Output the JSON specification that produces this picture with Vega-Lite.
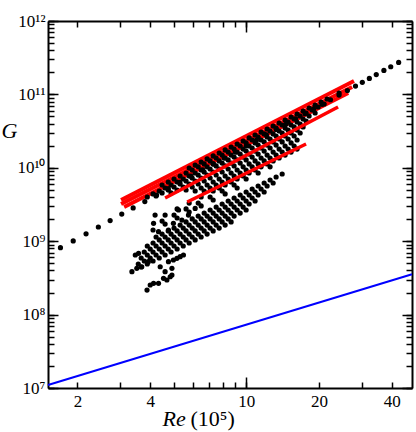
{
"$schema": "https://vega.github.io/schema/vega-lite/v6.json",
"width": 364, "height": 367,
"autosize": "none",
"padding": {"left": 48, "top": 21, "right": 4, "bottom": 44},
"background": "white",
"config": {"view": {"stroke": null}, "font": "Liberation Serif, Times New Roman, serif",
 "axis": {"grid": false, "domainColor": "black", "domainWidth": 2, "tickColor": "black", "tickWidth": 1.5, "labelFont": "Liberation Serif, Times New Roman, serif", "labelColor": "black", "labelFontSize": 17, "titleFont": "Liberation Serif, Times New Roman, serif", "titleColor": "black", "titleFontWeight": "normal", "labelOverlap": false, "labelFlush": false}},
"resolve": {"axis": {"x": "independent", "y": "independent"}},
"layer": [
 {"data": {"values": [{"re": 1.51, "g": 1.1e7}, {"re": 48.5, "g": 3.55e8}]},
  "mark": {"type": "line", "color": "#0000ff", "strokeWidth": 2},
  "encoding": {
   "x": {"field": "re", "type": "quantitative", "scale": {"type": "log", "domain": [1.51, 48.5], "nice": false},
     "axis": {"orient": "bottom", "values": [2,3,4,5,6,7,8,9,10,20,30,40], "labelExpr": "datum.value==2||datum.value==4||datum.value==10||datum.value==20||datum.value==40 ? ''+datum.value : ''", "tickSize": -6, "labelPadding": 11, "title": "Re", "titleFontStyle": "italic", "titleFontSize": 22, "titleX": 114, "titleY": 37, "titleAlign": "left", "titleBaseline": "alphabetic"}},
   "y": {"field": "g", "type": "quantitative", "scale": {"type": "log", "domain": [1e7, 1e12], "nice": false},
     "axis": {"orient": "left", "values": [1e7,2e7,3e7,4e7,5e7,6e7,7e7,8e7,9e7,1e8,2e8,3e8,4e8,5e8,6e8,7e8,8e8,9e8,1e9,2e9,3e9,4e9,5e9,6e9,7e9,8e9,9e9,1e10,2e10,3e10,4e10,5e10,6e10,7e10,8e10,9e10,1e11,2e11,3e11,4e11,5e11,6e11,7e11,8e11,9e11,1e12], "labelExpr": "datum.value==1e7?'10⁷':datum.value==1e8?'10⁸':datum.value==1e9?'10⁹':datum.value==1e10?'10¹⁰':datum.value==1e11?'10¹¹':datum.value==1e12?'10¹²':''", "tickSize": -6, "labelPadding": 9, "title": "G", "titleAngle": 0, "titleFontStyle": "italic", "titleFontSize": 22, "titleX": -39, "titleY": 109, "titleAlign": "center", "titleBaseline": "middle"}}
  }},
 {"data": {"values": [
   {"s": "A1", "re": 3.03, "g": 3.64e9}, {"s": "A1", "re": 27.9, "g": 1.52e11},
   {"s": "A2", "re": 3.03, "g": 3.21e9}, {"s": "A2", "re": 27.4, "g": 1.26e11},
   {"s": "A3", "re": 3.12, "g": 2.92e9}, {"s": "A3", "re": 26.4, "g": 1.045e11}]},
  "mark": {"type": "line", "color": "#ff0000", "strokeWidth": 4},
  "encoding": {
   "detail": {"field": "s"},
   "x": {"field": "re", "type": "quantitative", "scale": {"type": "log", "domain": [1.51, 48.5], "nice": false},
     "axis": {"orient": "top", "values": [2,3,4,5,6,7,8,9,10,20,30,40], "labels": false, "tickSize": -6, "title": null}},
   "y": {"field": "g", "type": "quantitative", "scale": {"type": "log", "domain": [1e7, 1e12], "nice": false},
     "axis": {"orient": "right", "values": [1e7,2e7,3e7,4e7,5e7,6e7,7e7,8e7,9e7,1e8,2e8,3e8,4e8,5e8,6e8,7e8,8e8,9e8,1e9,2e9,3e9,4e9,5e9,6e9,7e9,8e9,9e9,1e10,2e10,3e10,4e10,5e10,6e10,7e10,8e10,9e10,1e11,2e11,3e11,4e11,5e11,6e11,7e11,8e11,9e11,1e12], "labels": false, "tickSize": -6, "title": null}}
  }},
 {"data": {"values": [
{"re":5.80,"g":9.94e9},{"re":6.14,"g":1.09e10},{"re":6.50,"g":1.20e10},{"re":6.88,"g":1.32e10},{"re":7.29,"g":1.45e10},{"re":7.72,"g":1.59e10},{"re":8.17,"g":1.75e10},{"re":8.65,"g":1.92e10},{"re":9.16,"g":2.11e10},{"re":9.70,"g":2.32e10},{"re":10.27,"g":2.55e10},{"re":10.87,"g":2.80e10},{"re":11.51,"g":3.07e10},{"re":12.19,"g":3.38e10},{"re":12.91,"g":3.71e10},{"re":13.67,"g":4.08e10},{"re":14.47,"g":4.48e10},{"re":15.32,"g":4.92e10},{"re":16.22,"g":5.41e10},{"re":17.18,"g":5.94e10},{"re":18.19,"g":6.53e10},{"re":19.26,"g":7.17e10},{"re":20.39,"g":7.88e10},{"re":21.59,"g":8.66e10},{"re":24.21,"g":1.045e11},
{"re":4.48,"g":5.83e9},{"re":4.75,"g":6.41e9},{"re":5.02,"g":7.04e9},{"re":5.32,"g":7.73e9},{"re":5.63,"g":8.49e9},{"re":5.97,"g":9.33e9},{"re":6.32,"g":1.03e10},{"re":6.69,"g":1.13e10},{"re":7.08,"g":1.24e10},{"re":7.50,"g":1.36e10},{"re":7.94,"g":1.49e10},{"re":8.41,"g":1.64e10},{"re":8.90,"g":1.80e10},{"re":9.43,"g":1.98e10},{"re":9.98,"g":2.18e10},{"re":10.57,"g":2.39e10},{"re":11.19,"g":2.63e10},{"re":11.85,"g":2.89e10},{"re":12.54,"g":3.17e10},{"re":13.28,"g":3.48e10},{"re":14.07,"g":3.83e10},{"re":14.89,"g":4.21e10},{"re":15.77,"g":4.62e10},{"re":16.70,"g":5.08e10},{"re":17.68,"g":5.58e10},{"re":18.72,"g":6.13e10},{"re":19.82,"g":6.73e10},{"re":20.99,"g":7.40e10},
{"re":3.89,"g":4.00e9},{"re":4.11,"g":4.40e9},{"re":4.36,"g":4.83e9},{"re":4.61,"g":5.31e9},{"re":4.88,"g":5.83e9},{"re":5.17,"g":6.41e9},{"re":5.48,"g":7.04e9},{"re":5.80,"g":7.73e9},{"re":6.14,"g":8.49e9},{"re":6.50,"g":9.33e9},{"re":6.88,"g":1.03e10},{"re":7.29,"g":1.13e10},{"re":7.72,"g":1.24e10},{"re":8.17,"g":1.36e10},{"re":8.65,"g":1.49e10},{"re":9.16,"g":1.64e10},{"re":9.70,"g":1.80e10},{"re":10.27,"g":1.98e10},{"re":10.87,"g":2.18e10},{"re":11.51,"g":2.39e10},{"re":12.19,"g":2.63e10},{"re":12.91,"g":2.89e10},{"re":13.67,"g":3.17e10},{"re":14.47,"g":3.48e10},{"re":15.32,"g":3.83e10},{"re":16.22,"g":4.21e10},{"re":17.18,"g":4.62e10},{"re":18.19,"g":5.08e10},{"re":19.26,"g":5.58e10},
{"re":4.23,"g":4.13e9},{"re":4.48,"g":4.54e9},{"re":4.75,"g":4.98e9},{"re":5.02,"g":5.48e9},{"re":5.32,"g":6.02e9},{"re":5.63,"g":6.61e9},{"re":5.97,"g":7.26e9},{"re":6.32,"g":7.98e9},{"re":6.69,"g":8.77e9},{"re":7.08,"g":9.63e9},{"re":7.50,"g":1.06e10},{"re":7.94,"g":1.16e10},{"re":8.41,"g":1.28e10},{"re":8.90,"g":1.40e10},{"re":9.43,"g":1.54e10},{"re":9.98,"g":1.69e10},{"re":10.57,"g":1.86e10},{"re":11.19,"g":2.04e10},{"re":11.85,"g":2.25e10},{"re":12.54,"g":2.47e10},{"re":13.28,"g":2.71e10},{"re":14.07,"g":2.98e10},{"re":14.89,"g":3.27e10},{"re":15.77,"g":3.60e10},{"re":16.70,"g":3.95e10},{"re":17.68,"g":4.34e10},
{"re":4.88,"g":4.54e9},{"re":5.17,"g":4.98e9},{"re":5.48,"g":5.48e9},{"re":5.80,"g":6.02e9},{"re":6.14,"g":6.61e9},{"re":6.50,"g":7.26e9},{"re":6.88,"g":7.98e9},{"re":7.29,"g":8.77e9},{"re":7.72,"g":9.63e9},{"re":8.17,"g":1.06e10},{"re":8.65,"g":1.16e10},{"re":9.16,"g":1.28e10},{"re":9.70,"g":1.40e10},{"re":10.27,"g":1.54e10},{"re":10.87,"g":1.69e10},{"re":11.51,"g":1.86e10},{"re":12.19,"g":2.04e10},{"re":12.91,"g":2.25e10},{"re":13.67,"g":2.47e10},{"re":14.47,"g":2.71e10},{"re":15.32,"g":2.98e10},{"re":16.22,"g":3.27e10},{"re":17.18,"g":3.60e10},
{"re":5.63,"g":4.98e9},{"re":5.97,"g":5.48e9},{"re":6.32,"g":6.02e9},{"re":6.69,"g":6.61e9},{"re":7.08,"g":7.26e9},{"re":7.50,"g":7.98e9},{"re":7.94,"g":8.77e9},{"re":8.41,"g":9.63e9},{"re":8.90,"g":1.06e10},{"re":9.43,"g":1.16e10},{"re":9.98,"g":1.28e10},{"re":10.57,"g":1.40e10},{"re":11.19,"g":1.54e10},{"re":11.85,"g":1.69e10},{"re":12.54,"g":1.86e10},{"re":13.28,"g":2.04e10},{"re":14.07,"g":2.25e10},{"re":14.89,"g":2.47e10},{"re":15.77,"g":2.71e10},{"re":16.70,"g":2.98e10},
{"re":6.14,"g":4.83e9},{"re":6.50,"g":5.31e9},{"re":6.88,"g":5.83e9},{"re":7.29,"g":6.41e9},{"re":7.72,"g":7.04e9},{"re":8.17,"g":7.73e9},{"re":8.65,"g":8.49e9},{"re":9.16,"g":9.33e9},{"re":9.70,"g":1.03e10},{"re":10.27,"g":1.13e10},{"re":10.87,"g":1.24e10},{"re":11.51,"g":1.36e10},{"re":12.19,"g":1.49e10},{"re":12.91,"g":1.64e10},{"re":13.67,"g":1.80e10},{"re":14.47,"g":1.98e10},{"re":15.32,"g":2.18e10},{"re":16.22,"g":2.39e10},
{"re":6.69,"g":4.83e9},{"re":7.08,"g":5.31e9},{"re":7.50,"g":5.83e9},{"re":7.94,"g":6.41e9},{"re":8.41,"g":7.04e9},{"re":8.90,"g":7.73e9},{"re":9.43,"g":8.49e9},{"re":9.98,"g":9.33e9},{"re":10.57,"g":1.03e10},{"re":11.19,"g":1.13e10},{"re":11.85,"g":1.24e10},{"re":12.54,"g":1.36e10},{"re":13.28,"g":1.49e10},{"re":14.07,"g":1.64e10},{"re":14.89,"g":1.80e10},{"re":15.77,"g":1.98e10},
{"re":4.61,"g":2.27e9},{"re":5.17,"g":2.75e9},{"re":5.80,"g":3.31e9},{"re":6.50,"g":4.00e9},{"re":7.29,"g":4.83e9},{"re":7.72,"g":5.31e9},{"re":8.17,"g":5.83e9},{"re":8.65,"g":6.41e9},{"re":9.16,"g":7.04e9},{"re":9.70,"g":7.73e9},{"re":10.27,"g":8.49e9},{"re":10.87,"g":9.33e9},{"re":11.51,"g":1.03e10},{"re":12.19,"g":1.13e10},{"re":12.91,"g":1.24e10},{"re":13.67,"g":1.36e10},{"re":14.47,"g":1.49e10},{"re":15.32,"g":1.64e10},{"re":16.22,"g":1.80e10},
{"re":4.48,"g":1.88e9},{"re":5.02,"g":2.27e9},{"re":5.63,"g":2.75e9},{"re":6.32,"g":3.31e9},{"re":7.08,"g":4.00e9},{"re":7.94,"g":4.83e9},{"re":8.90,"g":5.83e9},{"re":9.98,"g":7.04e9},{"re":11.19,"g":8.49e9},{"re":12.54,"g":1.03e10},
{"re":4.11,"g":1.42e9},{"re":4.61,"g":1.71e9},{"re":5.17,"g":2.07e9},{"re":5.80,"g":2.50e9},{"re":6.50,"g":3.02e9},{"re":7.29,"g":3.64e9},{"re":8.17,"g":4.40e9},{"re":9.16,"g":5.31e9},
{"re":4.23,"g":1.14e9},{"re":4.48,"g":1.25e9},{"re":4.75,"g":1.38e9},{"re":5.02,"g":1.51e9},{"re":5.32,"g":1.66e9},{"re":5.63,"g":1.83e9},{"re":5.97,"g":2.01e9},{"re":6.32,"g":2.20e9},{"re":6.69,"g":2.42e9},{"re":7.08,"g":2.66e9},{"re":7.50,"g":2.92e9},{"re":7.94,"g":3.21e9},{"re":8.41,"g":3.53e9},{"re":8.90,"g":3.88e9},{"re":9.43,"g":4.26e9},{"re":9.98,"g":4.68e9},{"re":10.57,"g":5.14e9},{"re":11.19,"g":5.65e9},{"re":11.85,"g":6.21e9},{"re":12.54,"g":6.82e9},{"re":13.28,"g":7.49e9},{"re":14.07,"g":8.23e9},
{"re":3.89,"g":8.60e8},{"re":4.11,"g":9.45e8},{"re":4.36,"g":1.04e9},{"re":4.61,"g":1.14e9},{"re":4.88,"g":1.25e9},{"re":5.17,"g":1.38e9},{"re":5.48,"g":1.51e9},{"re":5.80,"g":1.66e9},{"re":6.14,"g":1.83e9},{"re":6.50,"g":2.01e9},{"re":6.88,"g":2.20e9},{"re":7.29,"g":2.42e9},{"re":7.72,"g":2.66e9},{"re":8.17,"g":2.92e9},{"re":8.65,"g":3.21e9},{"re":9.16,"g":3.53e9},{"re":9.70,"g":3.88e9},{"re":10.27,"g":4.26e9},{"re":10.87,"g":4.68e9},{"re":11.51,"g":5.14e9},{"re":12.19,"g":5.65e9},{"re":12.91,"g":6.21e9},
{"re":3.78,"g":7.13e8},{"re":4.00,"g":7.83e8},{"re":4.23,"g":8.60e8},{"re":4.48,"g":9.45e8},{"re":4.75,"g":1.04e9},{"re":5.02,"g":1.14e9},{"re":5.32,"g":1.25e9},{"re":5.63,"g":1.38e9},{"re":5.97,"g":1.51e9},{"re":6.32,"g":1.66e9},{"re":6.69,"g":1.83e9},{"re":7.08,"g":2.01e9},{"re":7.50,"g":2.20e9},{"re":7.94,"g":2.42e9},{"re":8.41,"g":2.66e9},{"re":8.90,"g":2.92e9},{"re":9.43,"g":3.21e9},{"re":9.98,"g":3.53e9},{"re":10.57,"g":3.88e9},{"re":11.19,"g":4.26e9},{"re":11.85,"g":4.68e9},
{"re":3.67,"g":5.90e8},{"re":3.89,"g":6.49e8},{"re":4.11,"g":7.13e8},{"re":4.36,"g":7.83e8},{"re":4.61,"g":8.60e8},{"re":4.88,"g":9.45e8},{"re":5.17,"g":1.04e9},{"re":5.48,"g":1.14e9},{"re":5.80,"g":1.25e9},{"re":6.14,"g":1.38e9},{"re":6.50,"g":1.51e9},{"re":6.88,"g":1.66e9},{"re":7.29,"g":1.83e9},{"re":7.72,"g":2.01e9},{"re":8.17,"g":2.20e9},{"re":8.65,"g":2.42e9},{"re":9.16,"g":2.66e9},{"re":9.70,"g":2.92e9},{"re":10.27,"g":3.21e9},{"re":10.87,"g":3.53e9},
{"re":3.57,"g":4.89e8},{"re":3.78,"g":5.37e8},{"re":4.00,"g":5.90e8},{"re":4.23,"g":6.49e8},{"re":4.48,"g":7.13e8},{"re":4.75,"g":7.83e8},{"re":5.02,"g":8.60e8},{"re":5.32,"g":9.45e8},{"re":5.63,"g":1.04e9},{"re":5.97,"g":1.14e9},{"re":6.32,"g":1.25e9},{"re":6.69,"g":1.38e9},{"re":7.08,"g":1.51e9},{"re":7.50,"g":1.66e9},{"re":7.94,"g":1.83e9},{"re":8.41,"g":2.01e9},{"re":8.90,"g":2.20e9},{"re":9.43,"g":2.42e9},{"re":9.98,"g":2.66e9},
{"re":3.67,"g":4.45e8},{"re":3.89,"g":4.89e8},{"re":4.11,"g":5.37e8},{"re":4.36,"g":5.90e8},{"re":4.61,"g":6.49e8},{"re":4.88,"g":7.13e8},{"re":5.17,"g":7.83e8},{"re":5.48,"g":8.60e8},{"re":5.80,"g":9.45e8},{"re":6.14,"g":1.04e9},{"re":6.50,"g":1.14e9},{"re":6.88,"g":1.25e9},{"re":7.29,"g":1.38e9},{"re":7.72,"g":1.51e9},{"re":8.17,"g":1.66e9},{"re":8.65,"g":1.83e9},
{"re":3.36,"g":3.84e8},{"re":3.52,"g":4.27e8},{"re":3.69,"g":4.49e8},{"re":3.88,"g":2.16e8},{"re":4.00,"g":2.53e8},{"re":4.13,"g":2.67e8},{"re":4.33,"g":2.67e8},{"re":4.54,"g":3.12e8},{"re":4.69,"g":2.96e8},{"re":4.84,"g":3.28e8},{"re":4.92,"g":3.46e8},{"re":4.40,"g":4.49e8},{"re":4.61,"g":3.84e8},{"re":4.76,"g":5.26e8},{"re":4.99,"g":5.54e8},{"re":5.16,"g":5.84e8},{"re":5.32,"g":6.15e8},{"re":5.49,"g":6.49e8},{"re":3.47,"g":6.49e8},{"re":3.58,"g":6.84e8},{"re":3.93,"g":5.26e8},{"re":4.92,"g":4.27e8},
{"re":4.13,"g":1.75e9},{"re":4.19,"g":2.27e9},{"re":4.33,"g":1.35e9},{"re":4.76,"g":1.42e9},{"re":4.99,"g":1.75e9},{"re":5.24,"g":2.66e9},{"re":5.41,"g":1.94e9},{"re":5.76,"g":2.27e9},{"re":6.14,"g":2.80e9}
  ]},
  "mark": {"type": "circle", "color": "black", "size": 27, "opacity": 1},
  "encoding": {
   "x": {"field": "re", "type": "quantitative", "scale": {"type": "log", "domain": [1.51, 48.5], "nice": false},
     "axis": {"orient": "bottom", "values": [10], "labels": false, "tickSize": -11, "domain": false, "title": "(10⁵)", "titleFontSize": 22, "titleX": 142, "titleY": 37, "titleAlign": "left", "titleBaseline": "alphabetic"}},
   "y": {"field": "g", "type": "quantitative", "scale": {"type": "log", "domain": [1e7, 1e12], "nice": false},
     "axis": {"orient": "left", "values": [1e7,1e8,1e9,1e10,1e11,1e12], "labels": false, "tickSize": -10, "domain": false, "title": null}}
  }},
 {"data": {"values": [
{"re":1.70,"g":8.15e8},{"re":1.92,"g":1.01e9},{"re":2.17,"g":1.26e9},{"re":2.44,"g":1.56e9},{"re":2.73,"g":1.91e9},{"re":3.05,"g":2.34e9},{"re":3.4,"g":2.84e9},{"re":3.8,"g":3.47e9},{"re":4.25,"g":4.25e9},{"re":4.75,"g":5.2e9},{"re":5.3,"g":6.33e9},{"re":5.9,"g":7.69e9},{"re":6.6,"g":9.4e9},{"re":7.3,"g":1.13e10},{"re":8.1,"g":1.36e10},{"re":9.0,"g":1.64e10},{"re":10.0,"g":1.99e10},{"re":11.0,"g":2.36e10},{"re":12.1,"g":2.81e10},{"re":13.3,"g":3.33e10},{"re":14.6,"g":3.94e10},{"re":16.0,"g":4.65e10},{"re":17.5,"g":5.46e10},{"re":19.0,"g":6.34e10},{"re":20.6,"g":7.33e10},{"re":22.3,"g":8.46e10},{"re":24.2,"g":9.8e10},{"re":26.2,"g":1.13e11},{"re":28.3,"g":1.30e11},{"re":30.2,"g":1.46e11},{"re":32.3,"g":1.65e11},{"re":34.5,"g":1.86e11},{"re":37.1,"g":2.12e11},{"re":39.6,"g":2.38e11},{"re":42.7,"g":2.73e11}
  ]},
  "mark": {"type": "circle", "color": "black", "size": 27, "opacity": 1},
  "encoding": {
   "x": {"field": "re", "type": "quantitative", "scale": {"type": "log", "domain": [1.51, 48.5], "nice": false},
     "axis": {"orient": "top", "values": [10], "labels": false, "tickSize": -11, "domain": false, "title": null}},
   "y": {"field": "g", "type": "quantitative", "scale": {"type": "log", "domain": [1e7, 1e12], "nice": false},
     "axis": {"orient": "right", "values": [1e7,1e8,1e9,1e10,1e11,1e12], "labels": false, "tickSize": -10, "domain": false, "title": null}}
  }},
 {"data": {"values": [
   {"s": "B", "re": 4.61, "g": 3.88e9}, {"s": "B", "re": 23.97, "g": 6.73e10},
   {"s": "C", "re": 5.69, "g": 3.42e9}, {"s": "C", "re": 17.67, "g": 2.11e10}]},
  "mark": {"type": "line", "color": "#ff0000", "strokeWidth": 3.5},
  "encoding": {
   "detail": {"field": "s"},
   "x": {"field": "re", "type": "quantitative", "scale": {"type": "log", "domain": [1.51, 48.5], "nice": false}, "axis": null},
   "y": {"field": "g", "type": "quantitative", "scale": {"type": "log", "domain": [1e7, 1e12], "nice": false}, "axis": null}
  }}
]
}
